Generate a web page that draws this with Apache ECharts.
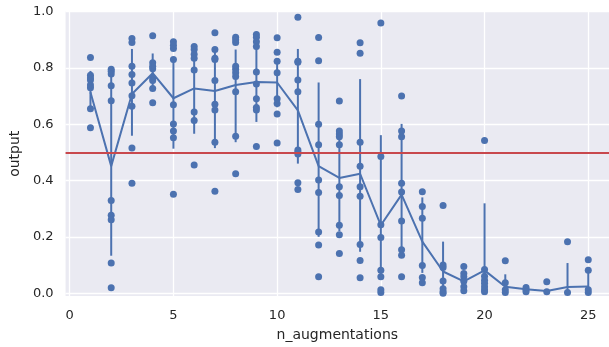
<!DOCTYPE html>
<html>
<head>
<meta charset="utf-8">
<script src="https://cdn.jsdelivr.net/npm/echarts@6/dist/echarts.min.js"></script>
<style>
  html, body { margin: 0; padding: 0; background: #fff; }
  #chart { width: 609px; height: 347px; }
</style>
</head>
<body>
<div id="chart"></div>
<script>
// n_augmentations values
const nAug = [1, 2, 3, 4, 5, 6, 7, 8, 9, 10, 11, 12, 13, 14, 15, 16, 17, 18, 19, 20, 21, 22, 23, 24, 25]

// single runs, one list per n_augmentations
const outputs = [
  [0.837, 0.774, 0.764, 0.757, 0.739, 0.729, 0.655, 0.587],
  [0.795, 0.788, 0.778, 0.736, 0.683, 0.329, 0.277, 0.261, 0.107, 0.019],
  [0.904, 0.890, 0.806, 0.776, 0.746, 0.701, 0.664, 0.515, 0.390],
  [0.914, 0.818, 0.806, 0.797, 0.764, 0.755, 0.727, 0.676],
  [0.893, 0.880, 0.869, 0.830, 0.669, 0.601, 0.576, 0.552, 0.351],
  [0.876, 0.865, 0.848, 0.834, 0.792, 0.643, 0.613, 0.455],
  [0.925, 0.865, 0.834, 0.830, 0.755, 0.671, 0.650, 0.536, 0.362],
  [0.909, 0.900, 0.890, 0.806, 0.795, 0.783, 0.769, 0.715, 0.557, 0.424],
  [0.918, 0.909, 0.893, 0.876, 0.785, 0.743, 0.690, 0.659, 0.650, 0.521],
  [0.907, 0.855, 0.823, 0.783, 0.690, 0.673, 0.636, 0.533],
  [0.980, 0.823, 0.820, 0.757, 0.715, 0.508, 0.501, 0.494, 0.392, 0.368],
  [0.908, 0.825, 0.600, 0.527, 0.402, 0.357, 0.217, 0.171, 0.058],
  [0.682, 0.576, 0.565, 0.555, 0.527, 0.378, 0.347, 0.241, 0.207, 0.141],
  [0.889, 0.852, 0.536, 0.451, 0.378, 0.344, 0.173, 0.116, 0.055],
  [0.959, 0.485, 0.243, 0.198, 0.081, 0.058, 0.012, 0.002],
  [0.700, 0.576, 0.555, 0.390, 0.359, 0.256, 0.154, 0.135, 0.058],
  [0.360, 0.308, 0.266, 0.098, 0.056, 0.037],
  [0.311, 0.100, 0.091, 0.043, 0.016, 0.005, 0.000],
  [0.095, 0.070, 0.058, 0.042, 0.023, 0.009],
  [0.542, 0.084, 0.060, 0.046, 0.035, 0.023, 0.012, 0.005],
  [0.115, 0.037, 0.012, 0.002],
  [0.020, 0.012, 0.005],
  [0.041, 0.005],
  [0.183, 0.002],
  [0.119, 0.081, 0.012, 0.002],
]

// mean line + confidence band (error bars)
const means = [0.713, 0.451, 0.707, 0.781, 0.692, 0.727, 0.718, 0.739, 0.750, 0.748, 0.649, 0.451, 0.409,
  0.424, 0.241, 0.350, 0.183, 0.077, 0.042, 0.081, 0.023, 0.014, 0.008, 0.022, 0.024]
const ciLow = [0.655, 0.133, 0.559, 0.725, 0.513, 0.566, 0.515, 0.536, 0.608, 0.660, 0.460, 0.200, 0.220,
  0.147, 0.060, 0.140, 0.072, 0.010, 0.020, 0.010, 0.002, 0.005, 0.002, 0.000, 0.000]
const ciHigh = [0.789, 0.789, 0.867, 0.851, 0.830, 0.870, 0.865, 0.865, 0.880, 0.820, 0.867, 0.748, 0.570,
  0.760, 0.561, 0.601, 0.340, 0.183, 0.070, 0.319, 0.067, 0.020, 0.015, 0.107, 0.081]

const xTicks = [0, 5, 10, 15, 20, 25]
const yTicks = [0, 0.2, 0.4, 0.6, 0.8, 1.0]
const threshold = 0.5

const blue = '#4c72b0'
const red = '#c8484d'
const font = 'DejaVu Sans'

let scatterData = []
nAug.forEach((n, i) => {
  outputs[i].map((v) => {
    scatterData.push([n, v])
  })
})

const chart = echarts.init(document.getElementById('chart'), null, {renderer: 'canvas'})

chart.setOption({
  animation: false,
  grid: {
    left: 64,
    right: 0,
    top: 11.5,
    bottom: 46.5,
    show: true,
    backgroundColor: '#eaeaf2',
    borderWidth: 0,
  },
  xAxis: {
    type: 'value',
    min: -0.2,
    max: 26,
    name: 'n_augmentations',
    nameLocation: 'middle',
    nameGap: 32,
    nameTextStyle: {fontFamily: font, fontSize: 14, color: '#262626'},
    axisLine: {show: false},
    axisTick: {show: false, customValues: xTicks},
    axisLabel: {customValues: xTicks, fontFamily: font, fontSize: 13, color: '#262626', margin: 13},
    splitLine: {show: true, lineStyle: {color: '#fff', width: 1.3}},
  },
  yAxis: {
    type: 'value',
    min: -0.01,
    max: 1,
    name: 'output',
    nameLocation: 'middle',
    nameGap: 39,
    nameTextStyle: {fontFamily: font, fontSize: 14, color: '#262626'},
    axisLine: {show: false},
    axisTick: {show: false, customValues: yTicks},
    axisLabel: {
      customValues: yTicks,
      fontFamily: font, fontSize: 13, color: '#262626', margin: 12,
      formatter: (v) => v.toFixed(1),
    },
    splitLine: {show: true, lineStyle: {color: '#fff', width: 1.3}},
  },
  series: [
    {
      type: 'scatter',
      data: scatterData,
      symbolSize: 7,
      itemStyle: {color: blue, opacity: 1},
      z: 3,
    },
    {
      // error bars
      type: 'custom',
      data: nAug.map((n, i) => [n, ciLow[i], ciHigh[i]]),
      renderItem: (params, api) => {
        const p1 = api.coord([api.value(0), api.value(1)])
        const p2 = api.coord([api.value(0), api.value(2)])
        return {
          type: 'line',
          shape: {x1: p1[0], y1: p1[1], x2: p2[0], y2: p2[1]},
          style: {stroke: blue, lineWidth: 2},
        }
      },
      z: 4,
    },
    {
      type: 'line',
      data: nAug.map((n, i) => [n, means[i]]),
      showSymbol: false,
      lineStyle: {color: blue, width: 2},
      z: 4,
      markLine: {
        silent: true,
        symbol: 'none',
        label: {show: false},
        lineStyle: {color: red, width: 2, type: 'solid'},
        data: [{yAxis: threshold}],
      },
    },
  ],
})
</script>
</body>
</html>
